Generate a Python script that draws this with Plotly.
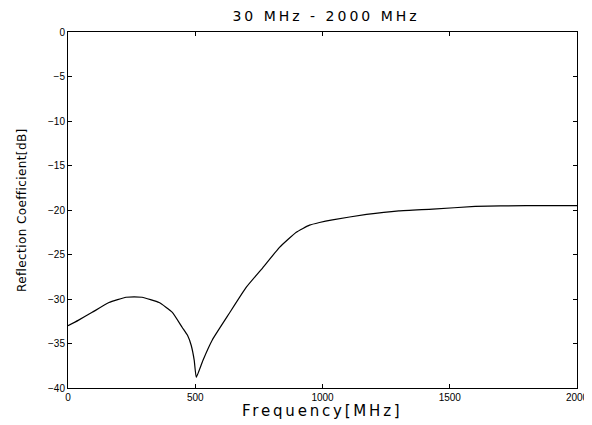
import plotly.graph_objects as go

freq_mhz = [0, 40, 95, 161, 228, 260, 291, 358, 410, 449, 470, 484, 496, 504,
            530, 567, 634, 700, 765, 831, 897, 949, 988, 1039, 1173, 1300,
            1433, 1600, 1800, 2000]
refl_db = [-33.0, -32.4, -31.5, -30.4, -29.8, -29.75, -29.8, -30.4, -31.5, -33.2, -34.1, -35.2, -36.9, -38.8,
           -36.9, -34.6, -31.6, -28.7, -26.5, -24.2, -22.5, -21.7, -21.4, -21.1, -20.5, -20.1,
           -19.9, -19.6, -19.5, -19.5]

x_ticks = [0, 500, 1000, 1500, 2000]
y_ticks = [0, -5, -10, -15, -20, -25, -30, -35, -40]

title_text = "30 MHz - 2000 MHz"
x_title = "Frequency[MHz]"
y_title = "Reflection Coefficient[dB]"


def spaced(s, px):
    return '<span style="letter-spacing:%spx">%s</span>' % (px, s)


fig = go.Figure()
fig.add_trace(go.Scatter(x=freq_mhz, y=refl_db, mode="lines",
                         line=dict(color="black", width=1.2, shape="spline", smoothing=0.4),
                         showlegend=False))

axis_common = dict(showline=True, linecolor="black", linewidth=1, mirror="ticks",
                   ticks="inside", ticklen=4, tickcolor="black", showgrid=False,
                   zeroline=False, automargin=False, ticklabeloverflow="allow",
                   tickfont=dict(family="Liberation Sans", size=10, color="black"))

# page body has an 8px margin, so the figure is drawn 8px right/down
fig.update_layout(
    width=584, height=417,
    margin=dict(l=60, r=15, t=24, b=37),
    paper_bgcolor="white", plot_bgcolor="white",
    title=dict(text=spaced(title_text, 3.0), x=(326 - 8) / 584, xanchor="center",
               y=1 - 8 / 417, yanchor="middle",
               font=dict(family="DejaVu Sans", size=14, color="black")),
    xaxis=dict(range=[0, 2000], tickvals=x_ticks, **axis_common),
    yaxis=dict(range=[-40, 0], tickvals=y_ticks, ticksuffix=" ", **axis_common),
    annotations=[
        dict(text=spaced(x_title, 2.8), xref="paper", yref="paper", x=0.5, y=-(411 - 388) / 356,
             xanchor="center", yanchor="middle", showarrow=False,
             font=dict(family="DejaVu Sans", size=15, color="black")),
        dict(text=spaced(y_title, 0.4), xref="paper", yref="paper", x=(22 - 68) / 509, y=0.5,
             xanchor="center", yanchor="middle", showarrow=False, textangle=-90,
             font=dict(family="DejaVu Sans", size=12, color="black")),
    ],
)

fig.write_html("out.html")
